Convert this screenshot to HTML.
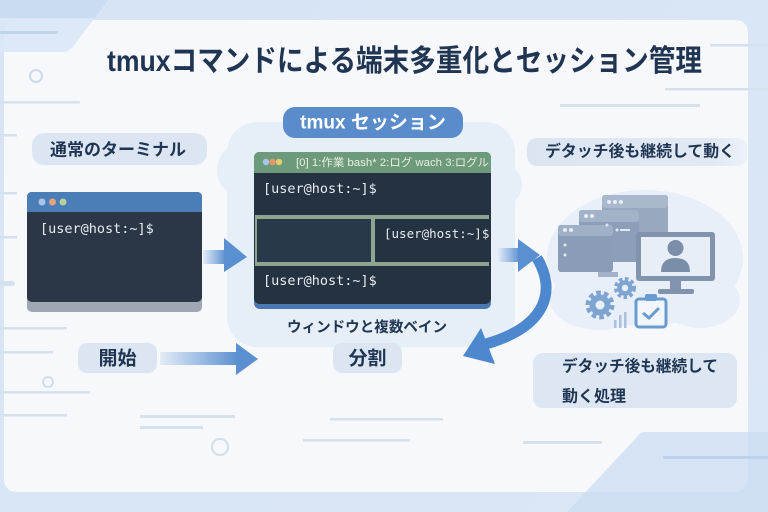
<!DOCTYPE html>
<html><head><meta charset="utf-8">
<style>
html,body{margin:0;padding:0;width:768px;height:512px;overflow:hidden;background:#dbe6f4}
svg{display:block}
.jp{font-family:"Liberation Sans","Noto Sans CJK JP",sans-serif}
.mono{font-family:"DejaVu Sans Mono","Liberation Mono",monospace}
</style></head>
<body>
<svg width="768" height="512" viewBox="0 0 768 512" xmlns="http://www.w3.org/2000/svg">
<defs>
<linearGradient id="bg" x1="0" y1="0" x2="1" y2="1">
<stop offset="0" stop-color="#d6e4f5"/><stop offset="1" stop-color="#dbe7f5"/>
</linearGradient>
<linearGradient id="arr" x1="0" y1="0" x2="1" y2="0">
<stop offset="0" stop-color="#e3ecf7"/><stop offset="1" stop-color="#5a8fd0"/>
</linearGradient>
<linearGradient id="pillfade" x1="0" y1="0" x2="1" y2="0">
<stop offset="0" stop-color="#dbe5f2"/><stop offset="0.85" stop-color="#e1e9f4"/><stop offset="1" stop-color="#edf2f9"/>
</linearGradient>
</defs>

<!-- background -->
<rect width="768" height="512" fill="url(#bg)"/>
<!-- main panel -->
<rect x="4" y="20" width="744" height="472" rx="12" fill="#f6f8fc"/>
<polygon points="0,0 108,0 72,48 66,52 0,52" fill="#dae7f6" opacity="0.9"/>
<polygon points="0,0 108,0 95,18 0,18" fill="#c9dcf2"/>
<rect x="0" y="31" width="58" height="3" rx="1.5" fill="#c2d4ea"/>

<!-- deco lines -->
<g fill="#d6e1ee">
<rect x="0" y="101" width="80" height="2.5" rx="1"/>
<rect x="0" y="134" width="17" height="2.5"/>
<rect x="0" y="192" width="17" height="2.5"/>
<rect x="0" y="236" width="17" height="2.5"/>
<rect x="0" y="281" width="15" height="5" rx="2.5"/>
<rect x="0" y="327" width="67" height="2.5"/>
<rect x="0" y="351" width="53" height="2.5"/>
<rect x="0" y="391" width="90" height="2.5"/>
<rect x="0" y="414" width="67" height="2.5"/>
<rect x="140" y="415" width="95" height="3"/>
<rect x="140" y="426" width="63" height="3"/>
<rect x="330" y="418" width="113" height="2.5"/>
<rect x="303" y="439" width="107" height="2.5"/>
<rect x="523" y="441" width="79" height="3"/>
<rect x="710" y="44" width="58" height="2.5"/>
<rect x="665" y="88" width="103" height="2.5"/>
<rect x="560" y="104" width="140" height="3"/>
</g>
<circle cx="36" cy="76" r="6" fill="none" stroke="#cbd9ea" stroke-width="2"/>
<circle cx="48" cy="382" r="5" fill="none" stroke="#d3deeb" stroke-width="2"/>
<circle cx="220" cy="447" r="8" fill="none" stroke="#d3deeb" stroke-width="2"/>

<!-- bottom-right shape -->
<path d="M645,432 L768,432 L768,512 L567,512 L637,437 Q640,432 645,432 Z" fill="#c9dcf2" opacity="0.75"/>
<rect x="663" y="456" width="105" height="3" fill="#bcd1eb"/>

<!-- title -->
<text x="107" y="71" class="jp" font-size="30" font-weight="bold" fill="#1f3552" textLength="595" lengthAdjust="spacingAndGlyphs">tmuxコマンドによる端末多重化とセッション管理</text>

<!-- center cloud -->
<g fill="#e6eef8">
<rect x="227" y="122" width="288" height="225" rx="30"/>
<circle cx="245" cy="170" r="28"/>
<circle cx="500" cy="185" r="22"/>
</g>

<!-- tmux session pill -->
<rect x="283" y="107" width="180" height="31" rx="12" fill="#5a8ccb"/>
<text x="373" y="123" class="jp" font-size="19" font-weight="bold" fill="#ffffff" text-anchor="middle" dominant-baseline="central">tmux セッション</text>

<!-- left label pill -->
<rect x="32" y="133" width="175" height="32" rx="12" fill="#dce6f2"/>
<text x="118" y="150" class="jp" font-size="17" font-weight="bold" fill="#1f3552" text-anchor="middle" dominant-baseline="central">通常のターミナル</text>

<!-- left terminal -->
<rect x="27" y="192" width="175" height="120" rx="5" fill="#9ea8b4"/>
<rect x="27" y="192" width="175" height="110" rx="5" fill="#2b3746"/>
<path d="M27,212 L27,197 Q27,192 32,192 L197,192 Q202,192 202,197 L202,212 Z" fill="#4b7db6"/>
<circle cx="42" cy="202" r="3.5" fill="#a9c6ea"/>
<circle cx="52.5" cy="202" r="3.5" fill="#e8a07e"/>
<circle cx="63" cy="202" r="3.5" fill="#b9d19e"/>
<text x="40" y="233" class="mono" font-size="13.5" fill="#e6ecf2">[user@host:~]$</text>

<!-- arrow left -> center -->
<rect x="203" y="250" width="23" height="14" fill="url(#arr)"/>
<polygon points="224,238 247,257 224,272" fill="#5a8fd0"/>

<!-- center terminal -->
<rect x="254" y="152" width="237" height="157" rx="6" fill="#4a78b0"/>
<rect x="254" y="152" width="237" height="152" rx="6" fill="#243241"/>
<path d="M254,173 L254,158 Q254,152 260,152 L485,152 Q491,152 491,158 L491,173 Z" fill="#6e9a7c"/>
<circle cx="266" cy="162" r="3.2" fill="#a9c6ea"/>
<circle cx="272.5" cy="162" r="3.2" fill="#e8956f"/>
<circle cx="279" cy="162" r="3.2" fill="#e2cf6c"/>
<text x="296" y="166" class="jp" font-size="11" fill="#e6efe0" textLength="193" lengthAdjust="spacingAndGlyphs">[0] 1:作業 bash*  2:ログ wach  3:ログル</text>
<rect x="256" y="219" width="115" height="43" fill="#2a394a"/>
<g fill="#8fa58f">
<rect x="255" y="215" width="234" height="4"/>
<rect x="371" y="219" width="4" height="43"/>
<rect x="255" y="262" width="234" height="4"/>
<rect x="255" y="219" width="2" height="43"/>
</g>
<text x="263" y="193" class="mono" font-size="13.5" fill="#e6ecf2">[user@host:~]$</text>
<text x="384" y="238" class="mono" font-size="12.5" fill="#e6ecf2">[user@host:~]$</text>
<text x="263" y="285" class="mono" font-size="13.5" fill="#e6ecf2">[user@host:~]$</text>

<text x="367" y="328" class="jp" font-size="14.5" font-weight="bold" fill="#1f3552" text-anchor="middle" dominant-baseline="central" textLength="160" lengthAdjust="spacingAndGlyphs">ウィンドウと複数ベイン</text>

<!-- bottom pills -->
<rect x="78" y="343" width="79" height="30" rx="9" fill="#dce6f2"/>
<text x="117.5" y="359" class="jp" font-size="19" font-weight="bold" fill="#1f3552" text-anchor="middle" dominant-baseline="central">開始</text>
<rect x="160" y="352" width="79" height="13" fill="url(#arr)"/>
<polygon points="236,343 258,359 236,375" fill="#5a8fd0"/>

<rect x="333" y="343" width="69" height="30" rx="9" fill="#dce6f2"/>
<text x="367.5" y="359" class="jp" font-size="19" font-weight="bold" fill="#1f3552" text-anchor="middle" dominant-baseline="central">分割</text>

<!-- right blob -->
<g fill="#e8eff8">
<ellipse cx="645" cy="258" rx="98" ry="68"/>
<ellipse cx="600" cy="300" rx="50" ry="30"/>
<ellipse cx="700" cy="300" rx="40" ry="28"/>
</g>

<!-- right label pill -->
<rect x="527" y="138" width="220" height="28" rx="10" fill="url(#pillfade)"/>
<text x="545" y="152" class="jp" font-size="16" font-weight="bold" fill="#1f3552" dominant-baseline="central" textLength="190" lengthAdjust="spacingAndGlyphs">デタッチ後も継続して動く</text>

<!-- right arrow straight -->
<rect x="498" y="248" width="22" height="14" fill="url(#arr)"/>
<polygon points="518,239 540,255 518,272" fill="#5a8fd0"/>
<!-- curved arrow -->
<path d="M537,258 C556,290 548,326 486,344" fill="none" stroke="#4d88cf" stroke-width="11"/>
<polygon points="463,356 481,328 495,364" fill="#4d88cf"/>

<!-- illustration -->
<g>
<rect x="602" y="195" width="66" height="50" rx="3" fill="#97a8bf"/>
<rect x="602" y="195" width="66" height="13" rx="3" fill="#a9b8cc"/>
<circle cx="609" cy="202" r="2" fill="#e8eef5"/><circle cx="615" cy="202" r="2" fill="#e8eef5"/><circle cx="621" cy="202" r="2" fill="#e8eef5"/>
<rect x="579" y="210" width="60" height="52" rx="3" fill="#8d9fb8"/>
<rect x="579" y="210" width="60" height="12" rx="3" fill="#a2b2c8"/>
<circle cx="586" cy="216" r="2" fill="#e8eef5"/><circle cx="592" cy="216" r="2" fill="#e8eef5"/>
<rect x="558" y="225" width="55" height="47" rx="3" fill="#8b9db6"/>
<rect x="558" y="225" width="55" height="11" rx="3" fill="#a0b0c6"/>
<circle cx="565" cy="230" r="2" fill="#e8eef5"/><circle cx="571" cy="230" r="2" fill="#e8eef5"/>
<circle cx="565" cy="245" r="1.5" fill="#dfe7f1"/><circle cx="565" cy="255" r="1.5" fill="#dfe7f1"/>
<circle cx="607" cy="225" r="1.5" fill="#dfe7f1"/><circle cx="617" cy="230" r="1.5" fill="#dfe7f1"/>
<rect x="620" y="229" width="10" height="2" fill="#dfe7f1"/>
<rect x="598" y="272" width="20" height="5" fill="#a3b2c6"/>
<rect x="636" y="232" width="79" height="49" rx="3" fill="#8294ad"/>
<rect x="641" y="237" width="69" height="39" fill="#e8eef6"/>
<circle cx="675.5" cy="248" r="8" fill="#7a8ea9"/>
<path d="M661,272 Q661,258 675.5,258 Q690,258 690,272 Z" fill="#7a8ea9"/>
<rect x="670" y="281" width="11" height="10" fill="#8294ad"/>
<rect x="658" y="289" width="36" height="5" rx="2" fill="#8294ad"/>
<circle cx="600" cy="305" r="12" fill="none" stroke="#7ea4d0" stroke-width="5" stroke-dasharray="4.5 3"/>
<circle cx="600" cy="305" r="7.5" fill="none" stroke="#7ea4d0" stroke-width="6"/>
<circle cx="625" cy="288" r="9" fill="none" stroke="#7ea4d0" stroke-width="4" stroke-dasharray="3.5 2.5"/>
<circle cx="625" cy="288" r="5.5" fill="none" stroke="#7ea4d0" stroke-width="4.5"/>
<rect x="614" y="320" width="2.5" height="8" fill="#a9c1de"/>
<rect x="619" y="315" width="2.5" height="13" fill="#a9c1de"/>
<rect x="624" y="312" width="2.5" height="16" fill="#a9c1de"/>
<rect x="636" y="299" width="30" height="28" rx="3" fill="#f2f6fb" stroke="#6a9bd0" stroke-width="3"/>
<rect x="645" y="294" width="12" height="7" rx="2" fill="#6a9bd0"/>
<polyline points="643,313 649,318 659,308" fill="none" stroke="#6a9bd0" stroke-width="3"/>
</g>

<!-- second right pill -->
<rect x="533" y="353" width="204" height="55" rx="10" fill="#dde7f3"/>
<text x="562" y="367" class="jp" font-size="16" font-weight="bold" fill="#1f3552" dominant-baseline="central" textLength="156" lengthAdjust="spacingAndGlyphs">デタッチ後も継続して</text>
<text x="562" y="397" class="jp" font-size="16" font-weight="bold" fill="#1f3552" dominant-baseline="central">動く処理</text>
</svg>
</body></html>
